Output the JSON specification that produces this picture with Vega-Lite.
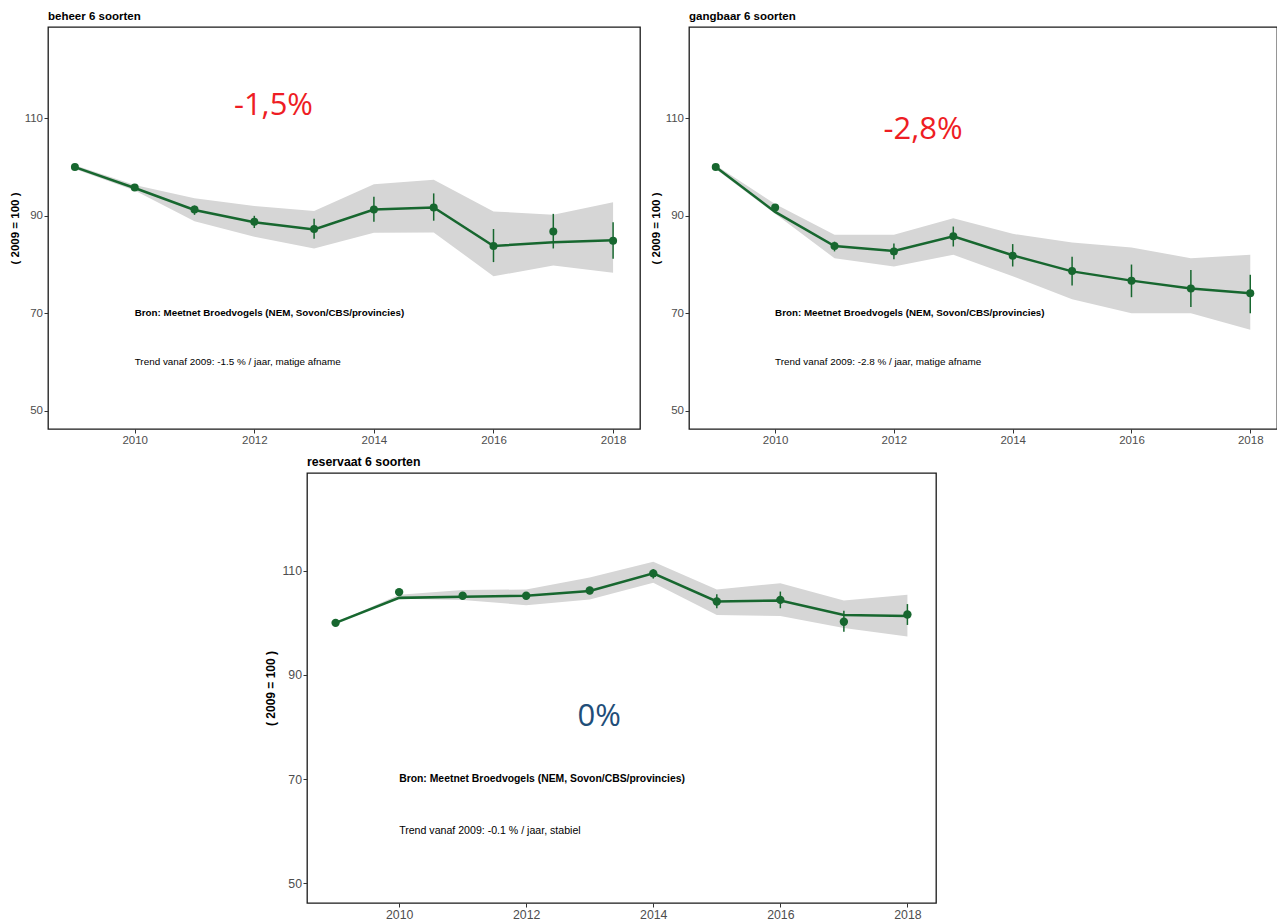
{
  "$schema": "https://vega.github.io/schema/vega-lite/v6.json",
  "padding": {"left": 8, "top": 9, "right": 0, "bottom": 0},
  "background": "white",
  "config": {
    "font": "Liberation Sans",
    "view": {"stroke": "#1a1a1a", "strokeWidth": 1.3},
    "title": {"fontSize": 11.5, "fontWeight": "bold", "anchor": "start", "frame": "group", "offset": 5, "color": "#000000", "font": "Liberation Sans"},
    "axis": {"grid": false, "domain": false, "tickColor": "#333333", "labelColor": "#4d4d4d", "labelFontSize": 11.5, "labelFont": "Liberation Sans", "tickSize": 4, "labelPadding": 1.5, "titleFontSize": 11.5, "titleFontWeight": "bold", "titleColor": "#000000", "titleFont": "Liberation Sans", "titlePadding": 4}
  },
  "datasets": {
    "beheer": [
      {"year": 2009, "idx": 100.0, "lo": 100.0, "hi": 100.0, "trend": 100.0, "blo": 99.6, "bhi": 100.4},
      {"year": 2010, "idx": 95.8, "lo": 95.4, "hi": 96.2, "trend": 95.7, "blo": 95.2, "bhi": 96.3},
      {"year": 2011, "idx": 91.3, "lo": 90.2, "hi": 92.1, "trend": 91.2, "blo": 88.9, "bhi": 93.6},
      {"year": 2012, "idx": 88.8, "lo": 87.5, "hi": 90.0, "trend": 88.7, "blo": 85.7, "bhi": 92.0},
      {"year": 2013, "idx": 87.3, "lo": 85.3, "hi": 89.4, "trend": 87.2, "blo": 83.3, "bhi": 91.0},
      {"year": 2014, "idx": 91.3, "lo": 88.8, "hi": 93.9, "trend": 91.3, "blo": 86.5, "bhi": 96.5},
      {"year": 2015, "idx": 91.7, "lo": 89.0, "hi": 94.6, "trend": 91.7, "blo": 86.6, "bhi": 97.4},
      {"year": 2016, "idx": 83.8, "lo": 80.5, "hi": 87.3, "trend": 83.8, "blo": 77.6, "bhi": 90.9},
      {"year": 2017, "idx": 86.8, "lo": 83.3, "hi": 90.4, "trend": 84.6, "blo": 79.8, "bhi": 90.2},
      {"year": 2018, "idx": 84.9, "lo": 81.2, "hi": 88.7, "trend": 85.0, "blo": 78.3, "bhi": 92.8}
    ],
    "gangbaar": [
      {"year": 2009, "idx": 100.0, "lo": 100.0, "hi": 100.0, "trend": 100.0, "blo": 99.6, "bhi": 100.4},
      {"year": 2010, "idx": 91.7, "lo": 91.4, "hi": 92.0, "trend": 90.8, "blo": 90.4, "bhi": 92.4},
      {"year": 2011, "idx": 83.8, "lo": 82.7, "hi": 84.7, "trend": 83.8, "blo": 81.3, "bhi": 86.1},
      {"year": 2012, "idx": 82.7, "lo": 81.1, "hi": 84.3, "trend": 82.8, "blo": 79.6, "bhi": 86.1},
      {"year": 2013, "idx": 85.8, "lo": 83.7, "hi": 87.8, "trend": 85.8, "blo": 82.0, "bhi": 89.5},
      {"year": 2014, "idx": 81.8, "lo": 79.6, "hi": 84.2, "trend": 81.9, "blo": 77.6, "bhi": 86.3},
      {"year": 2015, "idx": 78.7, "lo": 75.7, "hi": 81.6, "trend": 78.6, "blo": 72.9, "bhi": 84.5},
      {"year": 2016, "idx": 76.7, "lo": 73.3, "hi": 80.0, "trend": 76.7, "blo": 70.0, "bhi": 83.5},
      {"year": 2017, "idx": 75.1, "lo": 71.3, "hi": 78.9, "trend": 75.1, "blo": 70.0, "bhi": 81.3},
      {"year": 2018, "idx": 74.1, "lo": 70.0, "hi": 77.9, "trend": 74.1, "blo": 66.6, "bhi": 82.0}
    ],
    "reservaat": [
      {"year": 2009, "idx": 100.0, "lo": 100.0, "hi": 100.0, "trend": 100.0, "blo": 100.0, "bhi": 100.0},
      {"year": 2010, "idx": 105.9, "lo": 105.7, "hi": 106.1, "trend": 104.8, "blo": 104.6, "bhi": 105.4},
      {"year": 2011, "idx": 105.2, "lo": 104.9, "hi": 105.5, "trend": 105.0, "blo": 104.4, "bhi": 106.3},
      {"year": 2012, "idx": 105.2, "lo": 104.9, "hi": 105.5, "trend": 105.2, "blo": 103.4, "bhi": 106.4},
      {"year": 2013, "idx": 106.2, "lo": 105.5, "hi": 106.9, "trend": 106.1, "blo": 104.5, "bhi": 108.7},
      {"year": 2014, "idx": 109.5, "lo": 108.5, "hi": 110.3, "trend": 109.5, "blo": 107.7, "bhi": 111.7},
      {"year": 2015, "idx": 104.1, "lo": 102.8, "hi": 105.5, "trend": 104.1, "blo": 101.5, "bhi": 106.4},
      {"year": 2016, "idx": 104.4, "lo": 102.8, "hi": 106.0, "trend": 104.3, "blo": 101.3, "bhi": 107.6},
      {"year": 2017, "idx": 100.2, "lo": 98.3, "hi": 102.3, "trend": 101.5, "blo": 99.0, "bhi": 104.3},
      {"year": 2018, "idx": 101.6, "lo": 99.6, "hi": 103.6, "trend": 101.3, "blo": 97.4, "bhi": 105.4}
    ]
  },
  "spacing": 8,
  "vconcat": [
    {
      "spacing": 8,
      "hconcat": [
        {
          "title": "beheer 6 soorten",
          "width": 592, "height": 402,
          "data": {"name": "beheer"},
          "encoding": {"x": {"field": "year", "type": "quantitative", "scale": {"domain": [2008.55, 2018.45], "nice": false, "zero": false}, "axis": {"values": [2010, 2012, 2014, 2016, 2018], "format": "d", "title": null}}},
          "layer": [
            {"mark": {"type": "area", "color": "#d6d6d6"}, "encoding": {"y": {"field": "blo", "type": "quantitative", "title": "( 2009 = 100 )", "scale": {"domain": [46.25, 128.75], "nice": false, "zero": false}, "axis": {"values": [50, 70, 90, 110]}}, "y2": {"field": "bhi"}}},
            {"mark": {"type": "line", "color": "#17672f", "strokeWidth": 2.5}, "encoding": {"y": {"field": "trend", "type": "quantitative", "title": "( 2009 = 100 )"}}},
            {"mark": {"type": "rule", "color": "#17672f", "strokeWidth": 1.5}, "encoding": {"y": {"field": "lo", "type": "quantitative", "title": "( 2009 = 100 )"}, "y2": {"field": "hi"}}},
            {"mark": {"type": "point", "filled": true, "size": 64, "color": "#17672f", "opacity": 1}, "encoding": {"y": {"field": "idx", "type": "quantitative", "title": "( 2009 = 100 )"}}},
            {"transform": [{"filter": "datum.year == 2009"}], "mark": {"type": "text", "text": "-1,5%", "font": "Open Sans", "fontSize": 31, "color": "#ee1d24", "align": "center", "baseline": "middle"}, "encoding": {"x": {"datum": 2012.32}, "y": {"datum": 112.6}}},
            {"transform": [{"filter": "datum.year == 2009"}], "mark": {"type": "text", "text": "Bron: Meetnet Broedvogels (NEM, Sovon/CBS/provincies)", "fontSize": 9.8, "fontWeight": "bold", "color": "#000000", "align": "left", "baseline": "middle"}, "encoding": {"x": {"datum": 2010}, "y": {"datum": 70}}},
            {"transform": [{"filter": "datum.year == 2009"}], "mark": {"type": "text", "text": "Trend vanaf 2009: -1.5 % / jaar, matige afname", "fontSize": 9.9, "color": "#000000", "align": "left", "baseline": "middle"}, "encoding": {"x": {"datum": 2010}, "y": {"datum": 60}}}
          ]
        },
        {
          "title": "gangbaar 6 soorten",
          "width": 588, "height": 402,
          "data": {"name": "gangbaar"},
          "encoding": {"x": {"field": "year", "type": "quantitative", "scale": {"domain": [2008.55, 2018.45], "nice": false, "zero": false}, "axis": {"values": [2010, 2012, 2014, 2016, 2018], "format": "d", "title": null}}},
          "layer": [
            {"mark": {"type": "area", "color": "#d6d6d6"}, "encoding": {"y": {"field": "blo", "type": "quantitative", "title": "( 2009 = 100 )", "scale": {"domain": [46.25, 128.75], "nice": false, "zero": false}, "axis": {"values": [50, 70, 90, 110]}}, "y2": {"field": "bhi"}}},
            {"mark": {"type": "line", "color": "#17672f", "strokeWidth": 2.5}, "encoding": {"y": {"field": "trend", "type": "quantitative", "title": "( 2009 = 100 )"}}},
            {"mark": {"type": "rule", "color": "#17672f", "strokeWidth": 1.5}, "encoding": {"y": {"field": "lo", "type": "quantitative", "title": "( 2009 = 100 )"}, "y2": {"field": "hi"}}},
            {"mark": {"type": "point", "filled": true, "size": 64, "color": "#17672f", "opacity": 1}, "encoding": {"y": {"field": "idx", "type": "quantitative", "title": "( 2009 = 100 )"}}},
            {"transform": [{"filter": "datum.year == 2009"}], "mark": {"type": "text", "text": "-2,8%", "font": "Open Sans", "fontSize": 31, "color": "#ee1d24", "align": "center", "baseline": "middle"}, "encoding": {"x": {"datum": 2012.49}, "y": {"datum": 107.7}}},
            {"transform": [{"filter": "datum.year == 2009"}], "mark": {"type": "text", "text": "Bron: Meetnet Broedvogels (NEM, Sovon/CBS/provincies)", "fontSize": 9.8, "fontWeight": "bold", "color": "#000000", "align": "left", "baseline": "middle"}, "encoding": {"x": {"datum": 2010}, "y": {"datum": 70}}},
            {"transform": [{"filter": "datum.year == 2009"}], "mark": {"type": "text", "text": "Trend vanaf 2009: -2.8 % / jaar, matige afname", "fontSize": 9.9, "color": "#000000", "align": "left", "baseline": "middle"}, "encoding": {"x": {"datum": 2010}, "y": {"datum": 60}}}
          ]
        }
      ]
    },
    {
      "spacing": 0,
      "hconcat": [
        {"width": 216, "height": 10, "data": {"values": [{"k": 1}]}, "mark": {"type": "point", "opacity": 0}, "encoding": {}, "view": {"stroke": null}},
        {
          "title": {"text": "reservaat 6 soorten", "fontSize": 12.3},
          "width": 629, "height": 430,
          "data": {"name": "reservaat"},
          "encoding": {"x": {"field": "year", "type": "quantitative", "scale": {"domain": [2008.55, 2018.45], "nice": false, "zero": false}, "axis": {"values": [2010, 2012, 2014, 2016, 2018], "format": "d", "title": null, "labelFontSize": 12.3}}},
          "layer": [
            {"mark": {"type": "area", "color": "#d6d6d6"}, "encoding": {"y": {"field": "blo", "type": "quantitative", "title": "( 2009 = 100 )", "scale": {"domain": [46.25, 128.75], "nice": false, "zero": false}, "axis": {"values": [50, 70, 90, 110], "labelFontSize": 12.3, "titleFontSize": 12}}, "y2": {"field": "bhi"}}},
            {"mark": {"type": "line", "color": "#17672f", "strokeWidth": 2.6}, "encoding": {"y": {"field": "trend", "type": "quantitative", "title": "( 2009 = 100 )"}}},
            {"mark": {"type": "rule", "color": "#17672f", "strokeWidth": 1.5}, "encoding": {"y": {"field": "lo", "type": "quantitative", "title": "( 2009 = 100 )"}, "y2": {"field": "hi"}}},
            {"mark": {"type": "point", "filled": true, "size": 70, "color": "#17672f", "opacity": 1}, "encoding": {"y": {"field": "idx", "type": "quantitative", "title": "( 2009 = 100 )"}}},
            {"transform": [{"filter": "datum.year == 2009"}], "mark": {"type": "text", "text": "0%", "font": "Open Sans", "fontSize": 31, "color": "#1f4e79", "align": "center", "baseline": "middle"}, "encoding": {"x": {"datum": 2013.15}, "y": {"datum": 82.0}}},
            {"transform": [{"filter": "datum.year == 2009"}], "mark": {"type": "text", "text": "Bron: Meetnet Broedvogels (NEM, Sovon/CBS/provincies)", "fontSize": 10.4, "fontWeight": "bold", "color": "#000000", "align": "left", "baseline": "middle"}, "encoding": {"x": {"datum": 2010}, "y": {"datum": 70}}},
            {"transform": [{"filter": "datum.year == 2009"}], "mark": {"type": "text", "text": "Trend vanaf 2009: -0.1 % / jaar, stabiel", "fontSize": 10.6, "color": "#000000", "align": "left", "baseline": "middle"}, "encoding": {"x": {"datum": 2010}, "y": {"datum": 60}}}
          ]
        }
      ]
    }
  ]
}
